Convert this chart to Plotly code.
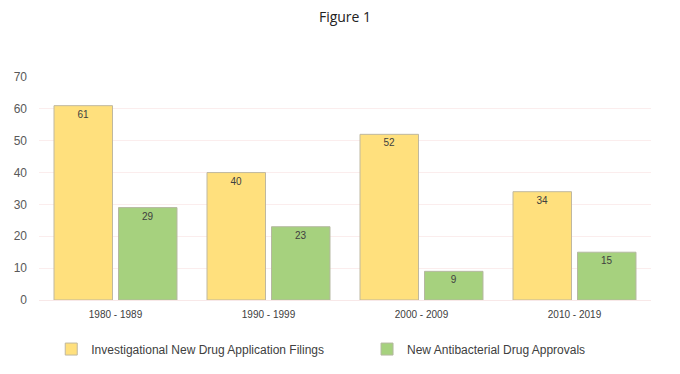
import plotly.graph_objects as go

categories = ["1980 - 1989", "1990 - 1999", "2000 - 2009", "2010 - 2019"]
ind_filings = [61, 40, 52, 34]
approvals = [29, 23, 9, 15]
y_ticks = [0, 10, 20, 30, 40, 50, 60, 70]

fig = go.Figure()
fig.add_trace(go.Bar(
    x=categories, y=ind_filings, name="Investigational New Drug Application Filings",
    marker=dict(color="#FFE07D", line=dict(color="#BFB8A0", width=1)),
    text=ind_filings, textposition="inside", insidetextanchor="end",
    textfont=dict(color="#404040", size=10, family="Liberation Sans"),
    legend="legend", showlegend=True,
))
fig.add_trace(go.Bar(
    x=categories, y=approvals, name="New Antibacterial Drug Approvals",
    marker=dict(color="#A6D17E", line=dict(color="#B5B8A0", width=1)),
    text=approvals, textposition="inside", insidetextanchor="end",
    textfont=dict(color="#404040", size=10, family="Liberation Sans"),
    legend="legend2", showlegend=True,
))

legend_common = dict(orientation="h", xanchor="left", y=-0.22, yanchor="middle",
                     font=dict(size=12, color="#404040"), itemwidth=30, bgcolor="rgba(0,0,0,0)")

fig.update_layout(
    width=680, height=374, showlegend=True,
    paper_bgcolor="white", plot_bgcolor="white",
    margin=dict(l=39, r=29, t=77, b=74, autoexpand=False),
    title=dict(text="Figure 1", x=0.5, xref="paper", xanchor="center",
               yref="container", y=0.955, yanchor="middle",
               font=dict(family="Open Sans", size=14, color="#222222")),
    barmode="group", bargap=0.157, bargroupgap=0.093,
    font=dict(family="Liberation Sans", color="#595959"),
    xaxis=dict(showgrid=False, showline=True, linecolor="#F8E8E8", tickfont=dict(size=10, color="#404040"),
               ticks="", ticklabelstandoff=5, automargin=False),
    yaxis=dict(range=[0, 70], tickvals=y_ticks, showgrid=True, gridcolor="#FBEDED", zeroline=False,
               tickfont=dict(size=12, color="#595959"), ticklabelstandoff=11, automargin=False),
    legend=dict(x=0.02, **legend_common),
    legend2=dict(x=0.536, **legend_common),
)

fig.write_html("out.html", config={"displayModeBar": False},
               post_script="document.body.style.margin='0';")
